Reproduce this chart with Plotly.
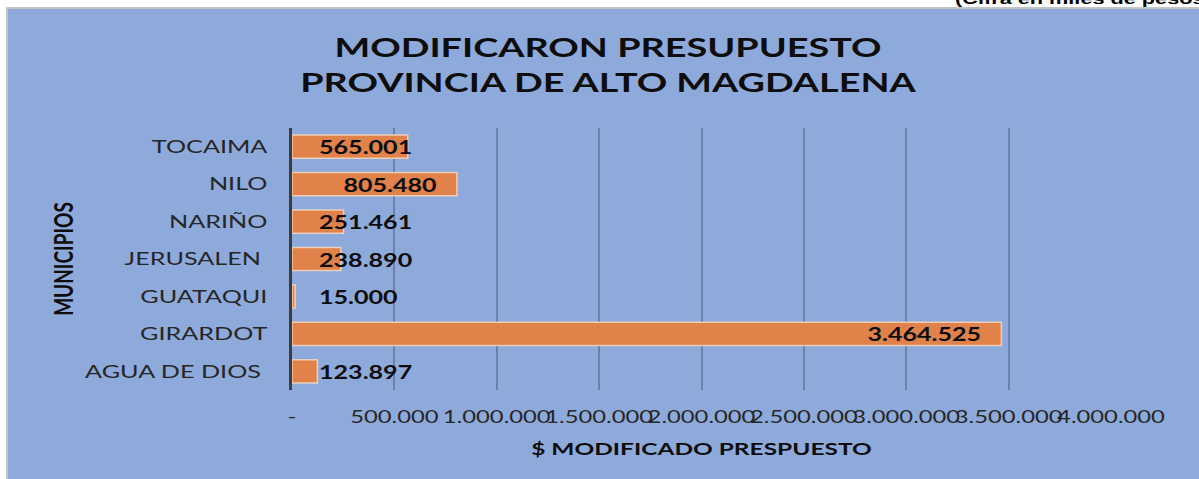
import json
import plotly.graph_objects as go

# Municipios de la provincia (de abajo hacia arriba, como en el eje)
municipios = ["AGUA DE DIOS ", "GIRARDOT", "GUATAQUI", "JERUSALEN ", "NARIÑO", "NILO", "TOCAIMA"]
presupuesto_modificado = [123897, 3464525, 15000, 238890, 251461, 805480, 565001]

tick_vals = [0, 500000, 1000000, 1500000, 2000000, 2500000, 3000000, 3500000, 4000000]
tick_text = ["-", "500.000", "1.000.000", "1.500.000", "2.000.000", "2.500.000",
             "3.000.000", "3.500.000", "4.000.000"]

W, H = 1199, 479
ML, MR, MT, MB = 292, 88, 128, 89
PW, PH = W - ML - MR, H - MT - MB

BG = "#8eaadb"
BAR = "#e0824a"
FONT = "Lato"


def fmt(v):
    return f"{v:,}".replace(",", ".")


def px_x(p):
    return (p - ML) / PW


def px_y(p):
    return 1 - (p - MT) / PH


fig = go.Figure()
fig.add_trace(go.Bar(
    x=presupuesto_modificado,
    y=municipios,
    orientation="h",
    marker=dict(color=BAR, line=dict(color="rgba(255,225,200,0.75)", width=1.5)),
    hoverinfo="skip",
))

# Etiquetas de valor: dentro del extremo en barras largas, junto al eje en las cortas
annotations = []
anchors = []
for name, v in zip(municipios, presupuesto_modificado):
    if v > 700000:
        annotations.append(dict(x=v, y=name, xref="x", yref="y", text=fmt(v),
                                showarrow=False, xanchor="right", xshift=-18,
                                font=dict(family=FONT, size=19, color="#0d0d0d", weight="bold")))
        anchors.append("right")
    else:
        annotations.append(dict(x=0, y=name, xref="x", yref="y", text=fmt(v),
                                showarrow=False, xanchor="left", xshift=25,
                                font=dict(family=FONT, size=19, color="#0d0d0d", weight="bold")))
        anchors.append("left")

annotations.append(dict(x=px_x(955), y=px_y(-2), xref="paper", yref="paper",
                        text="(Cifra en miles de pesos)", showarrow=False,
                        xanchor="left", yanchor="middle", xshift=-2,
                        font=dict(family="Liberation Sans", size=15.5, color="#000000", weight="bold")))
anchors.append("left")

shapes = [
    dict(type="rect", xref="paper", yref="paper", layer="below",
         x0=px_x(7), x1=px_x(1210), y0=px_y(8), y1=px_y(490),
         fillcolor=BG, line=dict(color="#c4c4c4", width=2)),
]

fig.update_layout(
    width=W, height=H,
    margin=dict(l=ML, r=MR, t=MT, b=MB),
    paper_bgcolor="white",
    plot_bgcolor=BG,
    showlegend=False,
    bargap=0.38,
    title=dict(
        text="MODIFICARON PRESUPUESTO<br>PROVINCIA DE ALTO MAGDALENA",
        x=608 / W, xanchor="center",
        y=1 - 57 / H, yanchor="middle",
        font=dict(family=FONT, size=27, color="#0d0d0d", weight="bold"),
    ),
    xaxis=dict(
        range=[0, 4000000],
        tickvals=tick_vals, ticktext=tick_text, tickangle=0,
        showgrid=True, gridcolor="#6c80a8", gridwidth=2,
        zeroline=False, showline=False, ticks="",
        tickfont=dict(family=FONT, size=17, color="#262626"),
        ticklabelstandoff=15,
        title=dict(text="$ MODIFICADO PRESPUESTO", standoff=16,
                   font=dict(family=FONT, size=17.5, color="#0d0d0d", weight="bold")),
    ),
    yaxis=dict(
        showgrid=False, zeroline=False,
        showline=True, linecolor="#3d3d3d", linewidth=3,
        ticks="", ticklabelstandoff=18,
        tickfont=dict(family=FONT, size=18, color="#262626"),
        title=dict(text="MUNICIPIOS", standoff=59,
                   font=dict(family=FONT, size=19, color="#0d0d0d", weight="bold")),
    ),
    annotations=annotations,
    shapes=shapes,
)

# Texto ensanchado horizontalmente, como en el gráfico original de Excel
stretch_js = """
var S = 1.4, SLAB = 1.32;
var anchors = %s;
document.querySelectorAll('.main-svg text').forEach(function (t) {
  var tr = t.getAttribute('transform') || '';
  var y = parseFloat(t.getAttribute('y') || '0');
  if (tr.indexOf('rotate') !== -1) {
    t.setAttribute('transform', tr + ' translate(0,' + y + ') scale(1,' + S + ') translate(0,' + (-y) + ')');
    return;
  }
  var ann = t.closest('g.annotation');
  if (ann) {
    var i = parseInt(ann.getAttribute('data-index'), 10);
    var b = t.getBBox();
    var a = anchors[i];
    var px = a === 'left' ? b.x : (a === 'right' ? b.x + b.width : b.x + b.width / 2);
    var s = (i === anchors.length - 1) ? S : SLAB;
    t.setAttribute('transform', tr + ' translate(' + px + ',0) scale(' + s + ',1) translate(' + (-px) + ',0)');
    return;
  }
  var x = parseFloat(t.getAttribute('x') || '0');
  t.setAttribute('transform', tr + ' translate(' + x + ',0) scale(' + S + ',1) translate(' + (-x) + ',0)');
});
""" % json.dumps(anchors)

fig.write_html("out.html", post_script=stretch_js)
